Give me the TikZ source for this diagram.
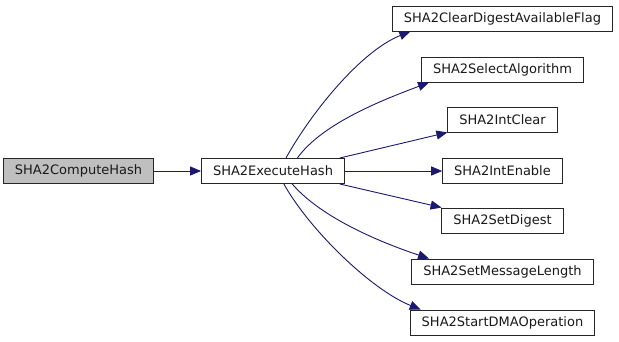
\documentclass[tikz,border=0pt]{standalone}
\usepackage{fontspec}
\setmainfont{DejaVu Sans}
\usetikzlibrary{arrows.meta}
\definecolor{edgeblue}{HTML}{191970}
\definecolor{rootfill}{HTML}{BFBFBF}

\begin{document}
\begin{tikzpicture}[
  x=1bp, y=-1bp,
  font=\fontsize{13.05}{15}\selectfont,
  >={Triangle[length=11bp, width=9bp]},
  fn/.style={draw=black!85, line width=0.9bp, fill=white, minimum height=25bp, inner xsep=11.5bp, inner ysep=0pt, text=black!90},
  root/.style={fn, fill=rootfill},
  call/.style={->, draw=edgeblue, line width=0.9bp}
]
\useasboundingbox (0,0) rectangle (619,341);
\def\colx{502.5}

% caller chain
\node[root] (compute) at (78.5,171) {SHA2ComputeHash};
\node[fn] (execute) at (273,171) {SHA2ExecuteHash};

% callees, one row every 50.5bp
\node[fn] (clearflag) at (\colx,18.5) {SHA2ClearDigestAvailableFlag};
\node[fn] (selectalg) at (\colx,69.5) {SHA2SelectAlgorithm};
\node[fn] (intclear) at (\colx,119.5) {SHA2IntClear};
\node[fn] (intenable) at (\colx,171) {SHA2IntEnable};
\node[fn] (setdigest) at (\colx,220.5) {SHA2SetDigest};
\node[fn] (setmsglen) at (\colx,271.5) {SHA2SetMessageLength};
\node[fn] (startdma) at (\colx,322.5) {SHA2StartDMAOperation};

\draw[call] (compute) -- (execute);
\draw[call] (execute.45) .. controls +(25,-45) and +(-50,20) .. (clearflag.188);
\draw[call] (execute.28) .. controls +(25,-35) and +(-45,17) .. (selectalg.190);
\draw[call] (execute.11) -- (intclear.south west);
\draw[call] (execute.east) -- (intenable.west);
\draw[call] (execute.-11) -- (setdigest.168);
\draw[call] (execute.-34) .. controls +(30,35) and +(-45,-15) .. (setmsglen.170.6);
\draw[call] (execute.-50) .. controls +(25,45) and +(-50,-20) .. (startdma.171.4);

\end{tikzpicture}
\end{document}
